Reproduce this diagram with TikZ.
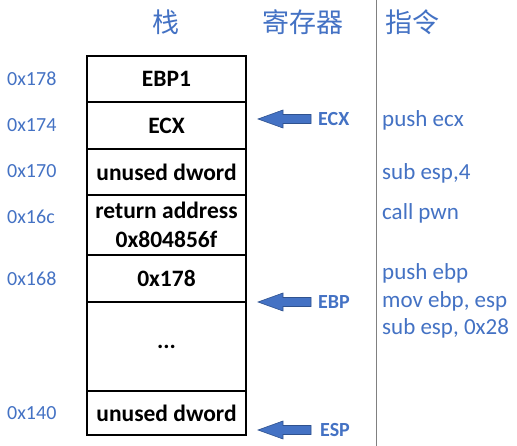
\documentclass[tikz,border=0pt]{standalone}
\usepackage{fontspec}
\setmainfont{Carlito}
\newfontfamily\cjk{Noto Sans CJK SC}
\definecolor{ofblue}{HTML}{4472C4}
\definecolor{ofdark}{HTML}{2F528F}
\begin{document}
\begin{tikzpicture}[x=1pt,y=-1pt,
  addr/.style={anchor=west,text=ofblue,font=\fontsize{20}{22}\selectfont,inner sep=0pt},
  instr/.style={anchor=west,text=ofblue,font=\fontsize{23}{26}\selectfont,inner sep=0pt},
  cell/.style={draw=black,line width=1.5pt,minimum width=159pt,inner sep=0pt,outer sep=0pt,anchor=north west,font=\bfseries\fontsize{23.5}{29}\selectfont,align=center},
  reg/.style={anchor=west,text=ofblue,font=\bfseries\fontsize{20}{22}\selectfont,inner sep=0pt},
  head/.style={text=ofblue,font=\cjk\fontsize{27}{30}\selectfont,inner sep=0pt},
  blockarrow/.style={fill=ofblue,draw=ofdark,line width=0.6pt}]
\useasboundingbox (0,0) rectangle (517,446);
\fill[white] (0,0) rectangle (517,446);
% headers
\node[head] (h1) at (166,22) {栈};
\node[head] (h2) at (303,22) {寄存器};
\node[head,anchor=west] (h3) at (385,22) {指令};
\draw[gray,line width=1pt] (376,0) -- (376,446);
% stack cells
\node[cell,minimum height=46pt] (c1) at (87,56) {EBP1};
\node[cell,minimum height=47pt] (c2) at (c1.south west) {ECX};
\node[cell,minimum height=46pt] (c3) at (c2.south west) {unused dword};
\node[cell,minimum height=60pt] (c4) at (c3.south west) {return address\\0x804856f};
\node[cell,minimum height=47pt] (c5) at (c4.south west) {0x178};
\node[cell,minimum height=89pt] (c6) at (c5.south west) {...};
\node[cell,minimum height=44pt] (c7) at (c6.south west) {unused dword};
% addresses
\node[addr] (a1) at (7,79) {0x178};
\node[addr] (a2) at (7,125) {0x174};
\node[addr] (a3) at (7,171) {0x170};
\node[addr] (a4) at (7,217) {0x16c};
\node[addr] (a5) at (7,279) {0x168};
\node[addr] (a6) at (7,413) {0x140};
% register arrows
\foreach \n/\yy/\lbl/\lx in {r1/119/ECX/318, r2/302/EBP/318, r3/430/ESP/320}{
  \draw[blockarrow] (258,\yy) -- (283,\yy-9) -- (283,\yy-4.5) -- (311,\yy-4.5) -- (311,\yy+4.5) -- (283,\yy+4.5) -- (283,\yy+9) -- cycle;
  \node[reg] (\n) at (\lx,\yy) {\lbl};
}
% instructions
\node[instr] (i1) at (382,120) {push ecx};
\node[instr] (i2) at (382,173) {sub esp,4};
\node[instr] (i3) at (382,213) {call pwn};
\node[instr] (i4) at (382,273) {push ebp};
\node[instr] (i5) at (382,301) {mov ebp, esp};
\node[instr] (i6) at (382,328) {sub esp, 0x28};
\end{tikzpicture}
\end{document}
